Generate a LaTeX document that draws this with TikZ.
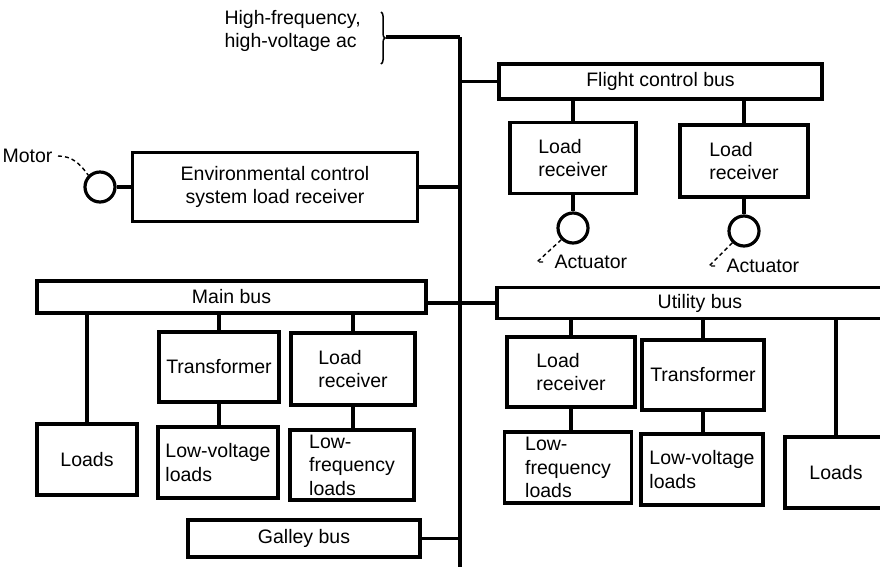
\documentclass[tikz,border=0pt]{standalone}
\usepackage{fontspec}
\setmainfont{Liberation Sans}
\usetikzlibrary{decorations.pathreplacing}

\begin{document}
\begin{tikzpicture}[x=1pt,y=-1pt,
  every node/.style={font=\fontsize{19.5}{23.5}\selectfont},
  box/.style={draw, line width=3.2pt, inner sep=0pt, align=left},
  bus/.style={box, align=center},
  dev/.style={circle, draw, line width=3.2pt, minimum size=30pt, inner sep=0pt},
  wire/.style={line width=3.2pt},
  leader/.style={line width=1.4pt, dash pattern=on 4pt off 3pt}]

\fill[white] (0,0) rectangle (880,566);
\clip (0,0) rectangle (880,566);

% main high-voltage trunk
\coordinate (ttop) at (460,37);
\coordinate (tbot) at (460,570);
\draw[wire] (ttop) -- (tbot);

% supply label with brace
\node[anchor=west, align=left] (hv) at (221,31) {High-frequency,\\high-voltage ac};
\draw[line width=1.5pt, decorate, decoration={brace, amplitude=4pt}] (381,12) -- (381,64);
\coordinate (btip) at (386,37);
\draw[wire] (btip) -- (ttop);

% flight control branch
\node[bus, minimum width=323pt, minimum height=35pt] (fcb) at (660.5,81.5) {Flight control bus};
\draw[wire] (fcb.west) -- (fcb.west -| ttop);

\node[box, minimum width=126pt, minimum height=71pt] (flr1) at (573,158) {Load\\receiver};
\node[box, minimum width=128pt, minimum height=72pt] (flr2) at (744,161) {Load\\receiver};
\draw[wire] (fcb.south -| flr1.north) -- (flr1.north);
\draw[wire] (fcb.south -| flr2.north) -- (flr2.north);

\node[dev] (a1) at (573,228) {};
\node[dev] (a2) at (744,231) {};
\draw[wire] (flr1.south) -- (a1.north);
\draw[wire] (flr2.south) -- (a2.north);

\node[anchor=west] (a1l) at (551,262) {Actuator};
\node[anchor=west] (a2l) at (723,266) {Actuator};
\draw[leader] (a1.south west) -- ([xshift=-14pt]a1l.west) -- ([xshift=-5pt]a1l.west);
\draw[leader] (a2.south west) -- ([xshift=-14pt]a2l.west) -- ([xshift=-5pt]a2l.west);

% environmental control branch
\node[bus, minimum width=285pt, minimum height=69pt] (ecs) at (275,187) {Environmental control\\system load receiver};
\node[dev] (motor) at (100,187) {};
\node[anchor=east] (ml) at (56,156) {Motor};
\draw[wire] (motor.east) -- (ecs.west);
\draw[wire] (ecs.east) -- (ecs.east -| ttop);
\draw[leader] ([xshift=2pt]ml.east) to[out=0, in=125] (motor.north west);

% main and utility buses
\node[bus, minimum width=389pt, minimum height=32pt] (mb) at (231.5,297) {Main bus};
\node[bus, minimum width=406pt, minimum height=31pt] (ub) at (700,303) {Utility bus};
\draw[wire] (mb.east |- ub.west) -- (ub.west);

% main bus loads
\node[box, minimum width=100pt, minimum height=71pt] (ldL) at (87,459.5) {Loads};
\node[box, minimum width=120pt, minimum height=70pt] (trL) at (219,367) {Transformer};
\node[box, minimum width=120pt, minimum height=71pt] (lvL) at (218,462.5) {Low-voltage\\loads};
\node[box, minimum width=124pt, minimum height=72pt] (lrL) at (353,369) {Load\\receiver};
\node[box, minimum width=124pt, minimum height=70pt] (lfL) at (352,465) {Low-\\frequency\\loads};
\draw[wire] (mb.south -| ldL.north) -- (ldL.north);
\draw[wire] (mb.south -| trL.north) -- (trL.north);
\draw[wire] (mb.south -| lrL.north) -- (lrL.north);
\draw[wire] (trL.south) -- (trL.south |- lvL.north);
\draw[wire] (lrL.south) -- (lrL.south |- lfL.north);

% galley bus
\node[bus, minimum width=232pt, minimum height=37pt] (gb) at (304,538.5) {Galley bus};
\draw[wire] (gb.east) -- (gb.east -| ttop);

% utility bus loads
\node[box, minimum width=128pt, minimum height=70pt] (lrR) at (571,372) {Load\\receiver};
\node[box, minimum width=127pt, minimum height=71pt] (lfR) at (568,467.5) {Low-\\frequency\\loads};
\node[box, minimum width=122pt, minimum height=70pt] (trR) at (703,375) {Transformer};
\node[box, minimum width=122pt, minimum height=71pt] (lvR) at (702,469.5) {Low-voltage\\loads};
\node[box, minimum width=102pt, minimum height=71pt] (ldR) at (836,472.5) {Loads};
\draw[wire] (ub.south -| lrR.north) -- (lrR.north);
\draw[wire] (ub.south -| trR.north) -- (trR.north);
\draw[wire] (ub.south -| ldR.north) -- (ldR.north);
\draw[wire] (lrR.south) -- (lrR.south |- lfR.north);
\draw[wire] (trR.south) -- (trR.south |- lvR.north);

\end{tikzpicture}
\end{document}
